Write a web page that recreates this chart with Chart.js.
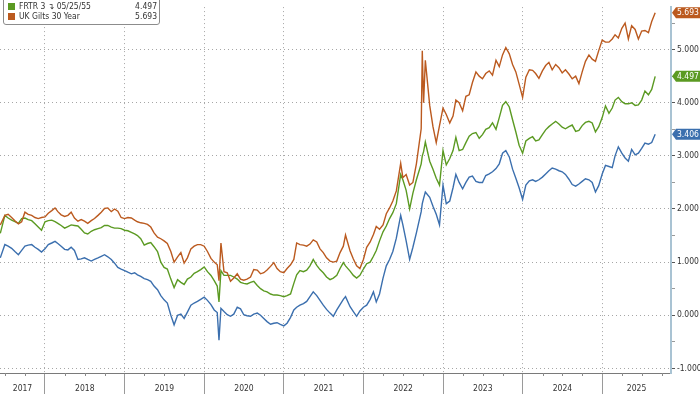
<!DOCTYPE html>
<html>
<head>
<meta charset="utf-8">
<script src="https://cdn.jsdelivr.net/npm/chart.js@4.4.1/dist/chart.umd.min.js"></script>
<style>
  html, body { margin: 0; padding: 0; background: #fff; overflow: hidden; }
  #wrap { position: relative; width: 700px; height: 394px; }
  #legend {
    position: absolute; left: 3px; top: -4px; width: 155px; height: 27px;
    border: 1px solid #8c8c8c; border-radius: 3px; background: #fff;
    font: 8.5px 'DejaVu Sans Condensed', 'Liberation Sans', sans-serif; color: #333;
  }
  .row { position: absolute; left: 4px; right: 2px; height: 10px; line-height: 10px; white-space: nowrap; }
  .sw { display: inline-block; width: 7px; height: 7px; vertical-align: -1px; margin-right: 4px; }
  .val { position: absolute; right: 0; top: 0; }
</style>
</head>
<body>
<div id="wrap">
  <canvas id="chart" width="700" height="394"></canvas>
  <div id="legend"></div>
</div>
<script>
// sample dates: 1st and 16th of each month, plus a few extra days on the big moves
const dates = [
  '2017-06-10', '2017-07', '2017-07-16', '2017-08', '2017-08-16', '2017-09', '2017-09-16', '2017-10', '2017-10-16', '2017-11', '2017-11-16', '2017-12', '2017-12-16',
  '2018-01', '2018-01-16', '2018-02', '2018-02-16', '2018-03', '2018-03-16', '2018-04', '2018-04-16', '2018-05', '2018-05-16', '2018-06', '2018-06-16',
  '2018-07', '2018-07-16', '2018-08', '2018-08-16', '2018-09', '2018-09-16', '2018-10', '2018-10-16', '2018-11', '2018-11-16', '2018-12', '2018-12-16',
  '2019-01', '2019-01-16', '2019-02', '2019-02-16', '2019-03', '2019-03-16', '2019-04', '2019-04-16', '2019-05', '2019-05-16', '2019-06', '2019-06-16',
  '2019-07', '2019-07-16', '2019-08', '2019-08-16', '2019-09', '2019-09-16', '2019-10', '2019-10-16', '2019-11', '2019-11-16', '2019-12', '2019-12-16',
  '2020-01', '2020-01-16', '2020-02', '2020-02-16', '2020-03', '2020-03-09', '2020-03-18', '2020-04', '2020-04-16', '2020-05', '2020-05-16', '2020-06', '2020-06-16',
  '2020-07', '2020-07-16', '2020-08', '2020-08-16', '2020-09', '2020-09-16', '2020-10', '2020-10-16', '2020-11', '2020-11-16', '2020-12', '2020-12-16',
  '2021-01', '2021-01-16', '2021-02', '2021-02-16', '2021-03', '2021-03-16', '2021-04', '2021-04-16', '2021-05', '2021-05-16', '2021-06', '2021-06-16',
  '2021-07', '2021-07-16', '2021-08', '2021-08-16', '2021-09', '2021-09-16', '2021-10', '2021-10-11', '2021-11', '2021-11-16', '2021-12', '2021-12-16',
  '2022-01', '2022-01-16', '2022-02', '2022-02-16', '2022-03', '2022-03-16', '2022-04', '2022-04-16', '2022-05', '2022-05-16', '2022-06', '2022-06-21',
  '2022-07', '2022-07-16', '2022-08', '2022-08-16', '2022-09', '2022-09-23', '2022-09-28', '2022-10-04', '2022-10-12', '2022-11', '2022-11-16', '2022-12', '2022-12-16',
  '2023-01', '2023-01-16', '2023-02', '2023-02-16', '2023-03', '2023-03-16', '2023-04', '2023-04-16', '2023-05', '2023-05-16', '2023-06', '2023-06-16',
  '2023-07', '2023-07-16', '2023-08', '2023-08-16', '2023-09', '2023-09-16', '2023-10', '2023-10-16', '2023-11', '2023-11-16', '2023-12', '2023-12-16',
  '2024-01', '2024-01-16', '2024-02', '2024-02-16', '2024-03', '2024-03-16', '2024-04', '2024-04-16', '2024-05', '2024-05-16', '2024-06', '2024-06-16',
  '2024-07', '2024-07-16', '2024-08', '2024-08-16', '2024-09', '2024-09-16', '2024-10', '2024-10-16', '2024-11', '2024-11-16', '2024-12', '2024-12-16',
  '2025-01', '2025-01-16', '2025-02', '2025-02-16', '2025-03', '2025-03-16', '2025-04', '2025-04-16', '2025-05', '2025-05-16', '2025-06', '2025-06-16',
  '2025-07', '2025-07-16', '2025-08', '2025-08-16', '2025-09'
];

const gilts = [
  1.70, 1.88, 1.90, 1.84, 1.78, 1.72, 1.76, 1.94, 1.90, 1.88, 1.84, 1.82, 1.84,
  1.85, 1.92, 1.97, 2.02, 1.95, 1.89, 1.86, 1.88, 1.94, 1.83, 1.77, 1.80, 1.77, 1.73, 1.78, 1.82, 1.88, 1.94, 2.01, 2.02, 1.95, 2.00, 1.96, 1.84,
  1.82, 1.84, 1.83, 1.79, 1.76, 1.74, 1.73, 1.71, 1.66, 1.55, 1.47, 1.44, 1.40, 1.35, 1.20, 1.00, 1.10, 1.18, 0.98, 1.08, 1.25, 1.30, 1.33, 1.33,
  1.30, 1.20, 1.07, 1.00, 0.95, 0.65, 1.36, 0.82, 0.80, 0.64, 0.70, 0.78, 0.68, 0.66, 0.68, 0.72, 0.86, 0.85, 0.78, 0.80, 0.85, 0.92, 0.99, 0.88, 0.82,
  0.80, 0.88, 0.95, 1.05, 1.36, 1.33, 1.32, 1.30, 1.34, 1.42, 1.38, 1.25, 1.18, 1.08, 1.02, 1.00, 1.02, 1.18, 1.30, 1.51, 1.21, 1.06, 0.93, 0.88,
  1.05, 1.28, 1.38, 1.52, 1.67, 1.62, 1.70, 1.91, 2.02, 2.15, 2.34, 2.86, 2.59, 2.65, 2.45, 2.50, 2.85, 3.51, 4.98, 4.00, 4.80, 3.95, 3.55, 3.25, 3.57,
  3.90, 3.78, 3.62, 3.75, 4.05, 4.00, 3.85, 4.12, 4.15, 4.38, 4.58, 4.50, 4.45, 4.55, 4.60, 4.52, 4.80, 4.68, 4.90, 5.04, 4.92, 4.72, 4.58, 4.35,
  4.10, 4.48, 4.62, 4.61, 4.55, 4.46, 4.60, 4.70, 4.76, 4.62, 4.72, 4.66, 4.56, 4.62, 4.54, 4.45, 4.50, 4.36, 4.58, 4.78, 4.90, 4.82, 4.78, 4.98,
  5.18, 5.14, 5.14, 5.20, 5.28, 5.22, 5.40, 5.50, 5.20, 5.45, 5.38, 5.20, 5.35, 5.36, 5.32, 5.53, 5.693
];

const frtr = [
  1.54, 1.88, 1.83, 1.79, 1.76, 1.73, 1.82, 1.83, 1.80, 1.78, 1.72, 1.66, 1.60,
  1.76, 1.78, 1.79, 1.76, 1.73, 1.69, 1.64, 1.67, 1.70, 1.69, 1.68, 1.62, 1.55, 1.53, 1.58, 1.61, 1.63, 1.65, 1.69, 1.69, 1.66, 1.64, 1.64, 1.63,
  1.60, 1.59, 1.56, 1.53, 1.50, 1.44, 1.32, 1.35, 1.37, 1.29, 1.20, 1.00, 0.90, 0.87, 0.68, 0.52, 0.67, 0.62, 0.58, 0.68, 0.72, 0.79, 0.82, 0.86,
  0.91, 0.82, 0.75, 0.65, 0.55, 0.25, 0.84, 0.75, 0.75, 0.75, 0.72, 0.68, 0.62, 0.60, 0.59, 0.62, 0.64, 0.56, 0.50, 0.46, 0.44, 0.40, 0.38, 0.38, 0.37,
  0.35, 0.37, 0.40, 0.60, 0.76, 0.84, 0.82, 0.85, 0.93, 1.05, 0.94, 0.86, 0.80, 0.72, 0.67, 0.70, 0.75, 0.88, 0.99, 0.93, 0.83, 0.75, 0.70, 0.75,
  0.87, 0.97, 1.00, 1.11, 1.22, 1.40, 1.57, 1.68, 1.82, 1.93, 2.10, 2.65, 2.55, 2.35, 2.00, 2.30, 2.55, 2.85, 3.00, 3.08, 3.26, 2.90, 2.75, 2.58, 2.45,
  3.10, 2.83, 2.95, 3.10, 3.35, 3.10, 3.12, 3.25, 3.37, 3.42, 3.44, 3.33, 3.40, 3.50, 3.53, 3.62, 3.50, 3.72, 3.95, 4.02, 3.92, 3.68, 3.45, 3.20,
  3.05, 3.28, 3.33, 3.36, 3.28, 3.30, 3.40, 3.49, 3.55, 3.60, 3.65, 3.60, 3.54, 3.51, 3.55, 3.58, 3.46, 3.48, 3.57, 3.63, 3.65, 3.62, 3.45, 3.55,
  3.72, 3.94, 3.80, 3.90, 4.05, 4.10, 4.02, 3.98, 3.98, 4.00, 3.95, 3.96, 4.05, 4.22, 4.15, 4.25, 4.497
];

// blue line: its legend row sits above the visible part of the box
const bund = [
  1.08, 1.33, 1.30, 1.26, 1.20, 1.14, 1.22, 1.30, 1.32, 1.33, 1.28, 1.24, 1.19,
  1.25, 1.33, 1.36, 1.39, 1.35, 1.30, 1.24, 1.23, 1.28, 1.22, 1.05, 1.06, 1.08, 1.05, 1.02, 1.05, 1.08, 1.11, 1.14, 1.10, 1.05, 0.98, 0.90, 0.87,
  0.84, 0.81, 0.78, 0.80, 0.76, 0.73, 0.69, 0.67, 0.64, 0.55, 0.48, 0.37, 0.29, 0.23, 0.00, -0.18, 0.00, 0.02, -0.06, 0.06, 0.19, 0.23, 0.26, 0.30,
  0.34, 0.28, 0.20, 0.10, 0.05, -0.47, 0.13, 0.07, 0.01, -0.02, 0.02, 0.15, 0.12, 0.01, -0.01, -0.02, 0.02, 0.04, 0.00, -0.06, -0.12, -0.17, -0.15, -0.14, -0.17,
  -0.20, -0.15, -0.04, 0.10, 0.15, 0.19, 0.22, 0.26, 0.35, 0.44, 0.37, 0.28, 0.19, 0.11, 0.04, -0.02, 0.10, 0.20, 0.30, 0.35, 0.16, 0.07, -0.02, 0.08,
  0.15, 0.19, 0.30, 0.44, 0.25, 0.40, 0.70, 0.93, 1.05, 1.20, 1.45, 1.88, 1.70, 1.40, 1.05, 1.28, 1.55, 1.95, 2.10, 2.20, 2.32, 2.22, 2.05, 1.90, 1.70,
  2.45, 2.10, 2.15, 2.40, 2.65, 2.50, 2.38, 2.50, 2.60, 2.62, 2.52, 2.50, 2.50, 2.63, 2.66, 2.70, 2.76, 2.85, 3.05, 3.10, 2.98, 2.75, 2.58, 2.40,
  2.18, 2.45, 2.53, 2.55, 2.52, 2.55, 2.60, 2.66, 2.72, 2.77, 2.75, 2.72, 2.70, 2.65, 2.56, 2.46, 2.43, 2.47, 2.52, 2.57, 2.55, 2.50, 2.32, 2.44,
  2.66, 2.82, 2.80, 2.78, 3.00, 3.17, 3.05, 2.96, 2.90, 3.12, 3.02, 3.05, 3.14, 3.24, 3.22, 3.25, 3.406
];

const years = [2017, 2018, 2019, 2020, 2021, 2022, 2023, 2024, 2025];
const yTicks = [-1, 0, 1, 2, 3, 4, 5];

const FONT = "'DejaVu Sans Condensed', 'Liberation Sans', sans-serif";
const ORANGE = '#bb5a1f', GREEN = '#5b9a22', BLUE = '#3b6fae';
const CLEAR = 'rgba(0,0,0,0)';

function toYear(s) {
  const p = s.split('-').map(Number);
  const y = p[0], m = p[1] - 1, d = p[2] || 1;
  const start = Date.UTC(y, 0, 1), end = Date.UTC(y + 1, 0, 1);
  return y + (Date.UTC(y, m, d) - start) / (end - start);
}
const xs = dates.map(toYear);
const xMin = 2017.4347, xMax = 2025.8643;
const yMin = -1.087, yMax = 5.80;

const pts = arr => arr.map((v, i) => ({ x: xs[i], y: v }));

// year label sits in the middle of the visible part of each year
const labelPos = years.map(y => (Math.max(y, xMin) + Math.min(y + 1, xMax)) / 2);
const yearEdges = years.slice(1);

// legend (top row is cut off in the source picture)
document.getElementById('legend').innerHTML =
  '<div class="row" style="top:4px"><span class="sw" style="background:' + GREEN + '"></span>FRTR 3 \u21b4 05/25/55<span class="val">4.497</span></div>' +
  '<div class="row" style="top:13.5px"><span class="sw" style="background:' + ORANGE + '"></span>UK Gilts 30 Year<span class="val">5.693</span></div>';

const quarterTicks = {
  id: 'quarterTicks',
  afterDraw(chart) {
    const sx = chart.scales.x, ctx = chart.ctx;
    ctx.save();
    ctx.strokeStyle = '#8a8a8a';
    ctx.lineWidth = 1;
    for (let q = Math.ceil(xMin * 4) / 4; q < xMax; q += 0.25) {
      if (Number.isInteger(q)) continue;
      const x = Math.round(sx.getPixelForValue(q)) + 0.5;
      ctx.beginPath();
      ctx.moveTo(x, sx.top);
      ctx.lineTo(x, sx.top + 3);
      ctx.stroke();
    }
    ctx.restore();
  }
};

const lastValueTags = {
  id: 'lastValueTags',
  afterDraw(chart) {
    const ctx = chart.ctx, sy = chart.scales.y;
    const left = chart.chartArea.right + 1, right = chart.width;
    chart.data.datasets.forEach(ds => {
      const v = ds.data[ds.data.length - 1].y;
      const y = sy.getPixelForValue(v);
      ctx.save();
      ctx.fillStyle = ds.borderColor;
      ctx.beginPath();
      ctx.moveTo(left, y);
      ctx.lineTo(left + 4, y - 5.5);
      ctx.lineTo(right, y - 5.5);
      ctx.lineTo(right, y + 5.5);
      ctx.lineTo(left + 4, y + 5.5);
      ctx.closePath();
      ctx.fill();
      ctx.fillStyle = '#fff';
      ctx.font = '8.5px ' + FONT;
      ctx.textBaseline = 'middle';
      ctx.fillText(v.toFixed(3), left + 5, y + 0.5);
      ctx.restore();
    });
  }
};

Chart.defaults.font.family = FONT;
Chart.defaults.font.size = 8.5;

new Chart(document.getElementById('chart'), {
  type: 'line',
  data: {
    datasets: [
      { label: 'UK Gilts 30 Year', data: pts(gilts), borderColor: ORANGE },
      { label: 'FRTR 3 05/25/55', data: pts(frtr), borderColor: GREEN },
      { label: 'Bund 30 Year', data: pts(bund), borderColor: BLUE }
    ]
  },
  options: {
    responsive: false,
    animation: false,
    layout: { padding: 0 },
    elements: {
      point: { radius: 0 },
      line: { borderWidth: 1.4, tension: 0 }
    },
    plugins: {
      legend: { display: false },
      tooltip: { enabled: false }
    },
    scales: {
      x: {
        type: 'linear',
        position: 'bottom',
        min: xMin,
        max: xMax,
        afterBuildTicks: s => {
          s.ticks = yearEdges.concat(labelPos).sort((a, b) => a - b).map(v => ({ value: v }));
        },
        afterFit: s => { s.height = 21; },
        grid: {
          color: c => (c.tick && Number.isInteger(c.tick.value)) ? '#a6a6a6' : CLEAR,
          tickColor: c => (c.tick && Number.isInteger(c.tick.value)) ? '#9a9a9a' : CLEAR,
          tickLength: 21
        },
        border: { color: '#7a7a7a', width: 1, dash: [1, 3] },
        ticks: {
          autoSkip: false,
          maxRotation: 0,
          padding: -10,
          color: '#333',
          callback: v => Number.isInteger(v) ? '' : String(Math.floor(v))
        }
      },
      y: {
        position: 'right',
        min: yMin,
        max: yMax,
        afterBuildTicks: s => {
          const t = [];
          yTicks.forEach(v => { t.push({ value: v }); t.push({ value: v + 0.5 }); });
          s.ticks = t;
        },
        afterFit: s => { s.width = 29; },
        grid: {
          color: c => (c.tick && Number.isInteger(c.tick.value)) ? '#a6a6a6' : CLEAR,
          tickColor: c => (c.tick && Number.isInteger(c.tick.value)) ? '#555' : '#999',
          tickLength: 4
        },
        border: { color: '#a9c3d3', width: 2, dash: [1, 3] },
        ticks: {
          autoSkip: false,
          padding: 2,
          color: '#333',
          callback: v => Number.isInteger(v) ? v.toFixed(3) : ''
        }
      }
    }
  },
  plugins: [quarterTicks, lastValueTags]
});
</script>
</body>
</html>
